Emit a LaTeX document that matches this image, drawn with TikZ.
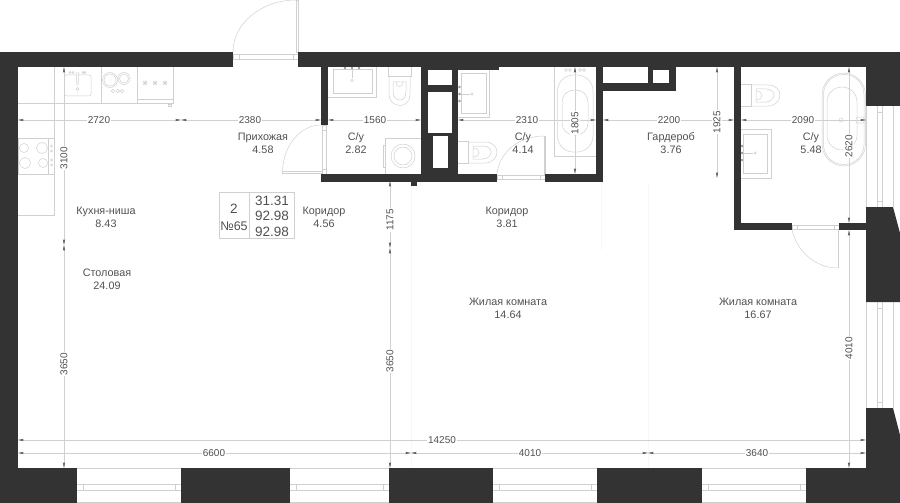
\documentclass[tikz,border=0pt]{standalone}
\usepackage{fontspec}
\setmainfont{Liberation Sans}
\usetikzlibrary{arrows.meta}
\definecolor{wallgray}{HTML}{333333}
\definecolor{linegray}{HTML}{D0D0D0}
\definecolor{textgray}{HTML}{505050}
\tikzset{
    wall/.style={fill=wallgray},
    thin line/.style={draw=linegray, line width=0.5pt},
    faint line/.style={draw=black!3, line width=0.6pt},
    dimline/.style={draw=linegray, line width=0.5pt, {Stealth[length=6pt,width=2.2pt,black!70]}-{Stealth[length=6pt,width=2.2pt,black!70]}},
    dimtext/.style={fill=white, inner sep=1pt, text=textgray, font=\fontsize{10}{10}\selectfont},
    roomtext/.style={text=textgray, font=\fontsize{10.8}{10}\selectfont, inner sep=0pt, text height=8pt, text depth=2pt},
    boxtext/.style={text=textgray, font=\fontsize{13.5}{13}\selectfont, inner sep=0pt}
}
\begin{document}
\begin{tikzpicture}[x=1pt,y=-1pt]
    \useasboundingbox (0,0) rectangle (900,503);
    % faint lines of the open plan
    \draw[faint line] (411,186) -- (411,468);
    \draw[faint line] (648,185) -- (648,468);
    \draw[faint line] (601,182) -- (601,250);
    % kitchen
    \draw[thin line] (18,103) -- (173,103) -- (173,67);
    \draw[thin line] (54,67) -- (54,138);
    \draw[thin line] (101.5,67) -- (101.5,103);
    \draw[thin line] (137,67) -- (137,103);
    \draw[thin line] (137,99) -- (173,99);
    \draw[thin line] (168,104) rectangle (171,106.5);
    \draw[thin line, rounded corners=2pt] (64.5,75) rectangle (91,96);
    \draw[thin line] (76,73) -- (79,73) -- (78,85) -- (77,85) -- cycle;
    \foreach \cx in {70,73,83,85}
        {
          \draw[thin line] (\cx,72.5) circle (1);
        };
    \draw[thin line] (77.5,89) circle (1.5);
    \draw[thin line] (110,80) circle (7.5);
    \draw[thin line] (110,80) circle (6);
    \draw[thin line] (124,78.5) circle (6);
    \draw[thin line] (124,78.5) circle (4.5);
    \foreach \cx in {113,118,122}
        {
          \draw[thin line] (\cx,91) circle (1.8);
        };
    \foreach \cx in {145,155,165}
        {
          \draw[thin line] (\cx-2.5,83) -- (\cx+2.5,83) (\cx,80.5) -- (\cx,85.5) (\cx-2,81) -- (\cx+2,85) (\cx-2,85) -- (\cx+2,81);
        };
    % stove
    \draw[thin line] (18,138) rectangle (54,174);
    \draw[thin line] (18,215.5) -- (54,215.5) -- (54,174);
    \draw[thin line] (48.5,138) -- (48.5,174);
    \foreach \cx/\cy/\r in {24/148/4.5,42/148/5.5,25/163/5.5,43/163/4.5}
        {
          \draw[thin line] (\cx,\cy) circle (\r);
        };
    \foreach \cy in {146,151,160,165}
        {
          \draw[thin line] (51.5,\cy) circle (1);
        };
    % first bathroom
    \draw[thin line] (328,97) -- (376,97) -- (376,67);
    \draw[thin line] (333,69) rectangle (372,93);
    \draw[thin line] (352,67) -- (352,78);
    \draw[thin line] (352,80.5) circle (1.2);
    \foreach \cx in {345,352,359}
        {
          \fill[black!40] (\cx,68) circle (1.3);
        };
    \draw[thin line] (388,67) -- (388,76) -- (411,76) -- (411,67);
    \draw[thin line] (389,76) -- (389,94) .. controls (389,101) and (394,105.5) .. (400,105.5) .. controls (406,105.5) and (410,101) .. (410,94) -- (410,76);
    \draw[thin line] (393,82) -- (393,91) .. controls (393,97) and (396,100) .. (400,100) .. controls (404,100) and (406,97) .. (406,91) -- (406,82) -- cycle;
    \draw[thin line] (396,82) .. controls (396,88) and (403,88) .. (403,82);
    \draw[thin line] (385,138) -- (421,138);
    \draw[thin line] (385,138) -- (385,174);
    \draw[thin line] (383,145) rectangle (385,167);
    \draw[thin line] (403,156) circle (12);
    \draw[thin line] (403,156) circle (9);
    % second bathroom
    \draw[thin line] (458,117) -- (489,117) -- (489,70);
    \draw[thin line] (461,73) rectangle (486,113);
    \draw[thin line] (459,94) -- (470,94);
    \draw[thin line] (472,94) circle (1.3);
    \foreach \cy in {87,94,101}
        {
          \fill[black!40] (459.5,\cy) circle (1.3);
        };
    \draw[thin line] (554,67) -- (554,156) -- (596,156);
    \draw[thin line, rounded corners=16pt] (557.5,75) rectangle (593,152);
    \draw[thin line, rounded corners=12pt] (562,90) rectangle (588,135);
    \foreach \cx in {566,570,580,584}
        {
          \draw[thin line] (\cx,70) circle (1.5);
        };
    % third bathroom
    \draw[thin line] (741,129) -- (771,129) -- (771,178) -- (741,178);
    \draw[thin line] (743,134) rectangle (767,173);
    \draw[thin line] (742,153) -- (753,153);
    \draw[thin line] (755,153) circle (1.2);
    \foreach \cy in {146,153,160}
        {
          \fill[black!40] (742,\cy) circle (1.3);
        };
    \draw[thin line, rounded corners=22pt] (822,73) rectangle (865.5,166);
    \draw[thin line, rounded corners=20pt] (823.5,74.5) rectangle (864,164.5);
    \draw[thin line, rounded corners=15pt] (827,87) rectangle (857,150);
    \draw[thin line] (841,120) circle (2);
    \draw[thin line] (843,120) -- (856,120);
    \draw[thin line, rounded corners=1pt] (856,117) rectangle (864,123);
    % toilets with the cistern on the left
    \foreach \cx/\cy in {458/141,741/84}
        {
          \begin{scope}[shift={(\cx,\cy)}]
            \draw[thin line] (0,0) -- (10,0) -- (10,22) -- (0,22);
            \draw[thin line] (10,1) -- (27,1) .. controls (35,1) and (39,6) .. (39,11) .. controls (39,16) and (35,22) .. (27,22) -- (10,22);
            \draw[thin line] (15,5) -- (25,5) .. controls (30,5) and (33,8) .. (33,11) .. controls (33,14) and (30,18) .. (25,18) -- (15,18) -- cycle;
            \draw[thin line] (15,7) .. controls (23,7) and (23,16) .. (15,16);
          \end{scope}
        };
    % doors
    \draw[thin line] (233,52) .. controls (233,23) and (262,0) .. (296,0);
    \draw[thin line] (296,0) rectangle (298,52);
    \draw[thin line] (233,54) rectangle (298,59);
    \draw[thin line] (239,54) -- (239,59) (293,54) -- (293,59);
    \draw[thin line] (282.5,172) .. controls (283,146) and (300,125) .. (321,125);
    \draw[thin line] (282.5,171.5) rectangle (322,173);
    \draw[thin line] (322,125) rectangle (326,174);
    \draw[thin line] (322,130) -- (326,130) (322,169) -- (326,169);
    \draw[thin line] (497,174) .. controls (499,153) and (518,136) .. (544,136);
    \draw[thin line] (544,136) rectangle (545.5,174);
    \draw[thin line] (497,175) rectangle (545,179.5);
    \draw[thin line] (502,175) -- (502,179.5) (540,175) -- (540,179.5);
    \draw[thin line] (792,230) .. controls (797,251) and (815,268) .. (838,268);
    \draw[thin line] (838,230) -- (838,268);
    \draw[thin line] (792,225) rectangle (839,229.5);
    \draw[thin line] (797,225) -- (797,229.5) (834,225) -- (834,229.5);
    % windows below
    \draw[thin line] (0,468) -- (866,468);
    \draw[thin line] (0,502.5) -- (900,502.5);
    \draw[thin line] (0,484) -- (806,484);
    \draw[thin line] (0,490) -- (806,490);
    \foreach \xa/\xb in {77/181,290/389,493/597,702/806}
        {
          \draw[thin line] (\xa+6,484) -- (\xa+6,490);
          \draw[thin line] (\xb-6,484) -- (\xb-6,490);
        };
    % windows on the right
    \foreach \ya/\yb in {106/207,302/408}
        {
          \draw[thin line] (866,\ya) -- (866,\yb);
          \draw[thin line] (877.5,\ya) -- (877.5,\yb);
          \draw[thin line] (882.5,\ya) -- (882.5,\yb);
          \draw[thin line] (893,\ya) -- (893,\yb);
          \draw[thin line] (877.5,\ya+6) -- (882.5,\ya+6);
          \draw[thin line] (877.5,\yb-6) -- (882.5,\yb-6);
        };
    % walls
    \fill[wall] (0,52) rectangle (233,67);
    \fill[wall] (298,52) rectangle (900,67);
    \fill[wall] (0,67) rectangle (18,468);
    \foreach \xa/\xb in {0/77,181/290,389/493,597/702,806/900}
        {
          \fill[wall] (\xa,468) rectangle (\xb,503);
        };
    \fill[wall] (866,67) rectangle (900,106);
    \fill[wall] (866,207) -- (893,207) -- (900,233) -- (900,302) -- (866,302) -- cycle;
    \fill[wall] (866,408) -- (893,408) -- (900,435) -- (900,468) -- (866,468) -- cycle;
    \fill[wall] (321,67) rectangle (328,125);
    \fill[wall] (321,174) rectangle (497,181.5);
    \fill[wall] (545,174) rectangle (603,181.5);
    \fill[wall] (411,181) rectangle (417,186);
    \fill[wall] (596,67) rectangle (603,181);
    \fill[wall] (421,67) rectangle (458,181);
    \fill[wall] (458,67) rectangle (499,70);
    \fill[white] (428,70) rectangle (452,85);
    \fill[white] (428,92) rectangle (452,133);
    \fill[white] (433,136) rectangle (448,168);
    \fill[wall] (603,83) rectangle (676,91);
    \fill[wall] (648,67) rectangle (676,83);
    \fill[white] (653,70) rectangle (669,83);
    \fill[wall] (734,67) rectangle (741,230);
    \fill[wall] (741,223) rectangle (792,230);
    \fill[wall] (839,223) rectangle (866,230);
    % dimensions
    \foreach \xa/\xb/\xl/\txt [count=\i] in {18/181/99/2720,181/321/250/2380,328/421/375/1560,458/596/527/2310,603/734/669/2200,741/866/803/2090}
        {
          \draw[dimline] (\xa,120) -- (\xb,120);
          \node[dimtext] (hdim\i) at (\xl,120) {\txt};
        };
    \draw[dimline] (18,440) -- (866,440);
    \node[dimtext] (hdimtotal) at (442,440) {14250};
    \foreach \xa/\xb/\xl/\txt [count=\i] in {18/411/214/6600,411/648/530/4010,648/866/757/3640}
        {
          \draw[dimline] (\xa,453) -- (\xb,453);
          \node[dimtext] (bdim\i) at (\xl,453) {\txt};
        };
    \foreach \xv/\ya/\yb/\yl/\txt [count=\i] in {64/67/245/158/3100,64/245/468/364/3650,390/181/248/220/1175,390/248/468/361/3650,575/67/174/123/1805,717/67/178/122/1925,849/67/223/146/2620,849/230/468/348/4010}
        {
          \draw[dimline] (\xv,\ya) -- (\xv,\yb);
          \node[dimtext, rotate=90] (vdim\i) at (\xv,\yl) {\txt};
        };
    % room names
    \foreach \xl/\yl/\nm/\ar [count=\i] in {263/137/Прихожая/4.58,356/137/С\slash у/2.82,523/137/С\slash у/4.14,671/137/Гардероб/3.76,811/137/С\slash у/5.48,106/211/Кухня-ниша/8.43,107/273/Столовая/24.09,324/211/Коридор/4.56,507/211/Коридор/3.81,508/302/Жилая комната/14.64,758/302/Жилая комната/16.67}
        {
          \node[roomtext] (room\i) at (\xl,\yl) {\nm};
          \node[roomtext] (area\i) at (\xl,\yl+13) {\ar};
        };
    % apartment box
    \draw[thin line] (219,192) rectangle (294,238);
    \draw[thin line] (249,192) -- (249,238);
    \node[boxtext] (rooms) at (234,209) {2};
    \node[boxtext, font=\fontsize{12.5}{13}\selectfont] (flat) at (234,226) {№65};
    \node[boxtext] (livearea) at (272,201) {31.31};
    \node[boxtext] (flatarea) at (272,216) {92.98};
    \node[boxtext] (totalarea) at (272,232) {92.98};
\end{tikzpicture}
\end{document}
